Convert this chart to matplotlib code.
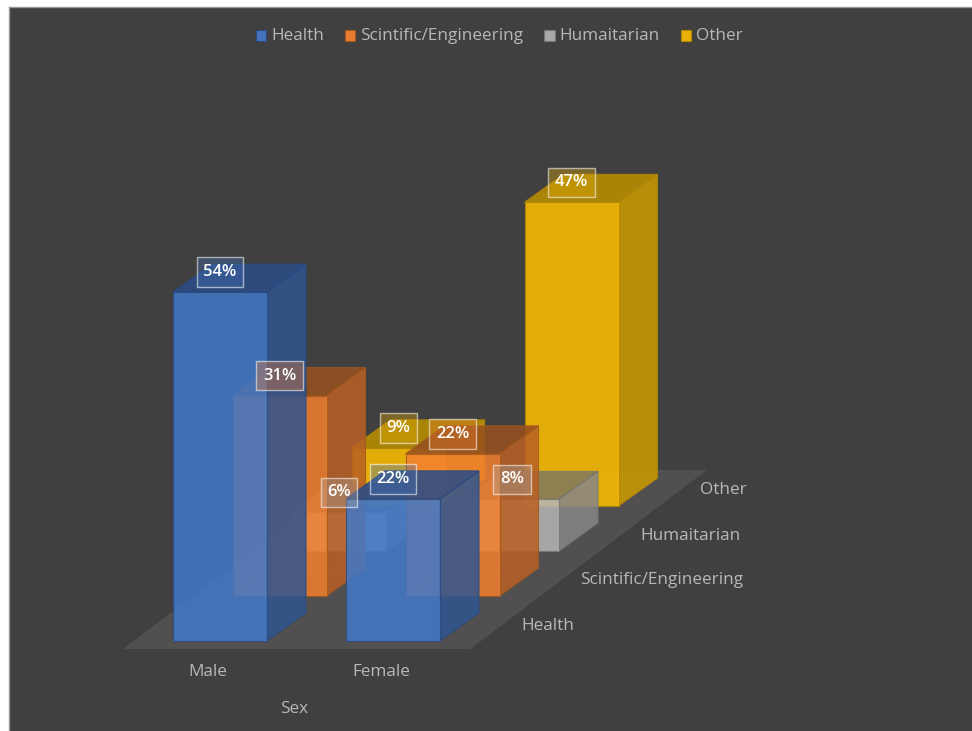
import matplotlib
matplotlib.use("Agg")
import matplotlib.pyplot as plt
from matplotlib.patches import Polygon, Patch

plt.rcParams['font.family'] = ['Open Sans', 'DejaVu Sans']

sexes = ["Male", "Female"]
series_names = ["Health", "Scintific/Engineering", "Humaitarian", "Other"]
health = [54, 22]
scientific = [31, 22]
humanitarian = [6, 8]
other = [9, 47]
series_values = [health, scientific, humanitarian, other]
axis_title = "Sex"

front_colors = ["#4278C8", "#F2802F", "#B5B5B5", "#FFC000"]
legend_colors = ["#4472BB", "#E87B30", "#A8A8A8", "#EAB005"]
side_colors = ["#30558F", "#B86024", "#868686", "#CC9C00"]
top_colors = ["#2B4C86", "#964F1E", "#6E6E6E", "#B88E00"]
edge_colors = ["#2A4A80", "#A5591F", "#777777", "#B08604"]
BG, FLOOR, TEXT = "#404040", "#514F4F", "#B8B8B8"

W, H = 972, 731
PX_X, PX_Y = 173.0, 6.46          # pixels per category / per percent
X0, Y0 = 220.0, 641.0             # pixel of first category centre / zero line
STEP_X, STEP_Y = 59.5 / PX_X, 45 / PX_Y      # shift per series row
DEP_X, DEP_Y = 39 / PX_X, 28 / PX_Y          # bar depth
BAR_W = 94 / PX_X
FS = 12
FS_AXIS = 12.3

fig = plt.figure(figsize=(W / 100, H / 100), dpi=100, facecolor="white")
ax = fig.add_axes([9 / W, 0, 963 / W, 724 / H], facecolor=BG)
ax.set_xlim((9 - X0) / PX_X, (W - X0) / PX_X)
ax.set_ylim((Y0 - H) / PX_Y, (Y0 - 7) / PX_Y)
ax.set_xticks([]); ax.set_yticks([])
for k in ("right", "bottom"):
    ax.spines[k].set_visible(False)
for k in ("left", "top"):
    ax.spines[k].set_color("#9A9A9A"); ax.spines[k].set_linewidth(1.0)


def shift(x, row, y=0.0):
    return x + row * STEP_X, y + row * STEP_Y


# floor
f_front, f_back = -8 / 45, 3.8
mx_l, mx_r = 39.4 / PX_X, 41 / PX_X
xl = 0 - BAR_W / 2 - mx_l
xr = len(sexes) - 1 + BAR_W / 2 + mx_r
ax.add_patch(Polygon([shift(xl, f_front), shift(xr, f_front),
                      shift(xr, f_back), shift(xl, f_back)],
                     closed=True, fc=FLOOR, ec="none", zorder=1))

z = 2
for row in range(len(series_names) - 1, -1, -1):
    vals = series_values[row]
    for col, v in enumerate(vals):
        cx, base = shift(col, row)
        l, r = cx - BAR_W / 2, cx + BAR_W / 2
        ec = edge_colors[row]
        top_a = 0.72 if row == 2 else 0.88
        # hidden edges seen through the translucent bar
        ax.plot([l, l + DEP_X, l + DEP_X], [base, base + DEP_Y, base + v + DEP_Y],
                color="#FFFFFF", alpha=0.05, lw=1, zorder=z)
        ax.plot([l + DEP_X, r + DEP_X], [base + DEP_Y, base + DEP_Y],
                color="#FFFFFF", alpha=0.05, lw=1, zorder=z)
        ax.add_patch(Polygon([(r, base), (r + DEP_X, base + DEP_Y),
                              (r + DEP_X, base + v + DEP_Y), (r, base + v)],
                             closed=True, fc=side_colors[row], ec=ec, lw=0.8,
                             alpha=0.86, zorder=z + 0.1))
        ax.add_patch(Polygon([(l, base + v), (r, base + v),
                              (r + DEP_X, base + v + DEP_Y), (l + DEP_X, base + v + DEP_Y)],
                             closed=True, fc=top_colors[row], ec=ec, lw=0.8,
                             alpha=top_a, zorder=z + 0.1))
        ax.bar(cx, v, width=BAR_W, bottom=base, color=front_colors[row], alpha=0.86,
               edgecolor=ec, linewidth=0.8, zorder=z + 0.2)
    z += 1

# data labels on top of all bars
for row, vals in enumerate(series_values):
    for col, v in enumerate(vals):
        cx, base = shift(col, row)
        ax.text(cx, base + v + 22 / PX_Y, f"{v}%", color="white", fontsize=FS,
                fontweight="semibold", ha="center", va="center_baseline", zorder=20,
                bbox=dict(boxstyle="square,pad=0.4", fc=legend_colors[row] + "59",
                          ec="#FFFFFF90", lw=1.0))

# axis labels
for col, name in enumerate(sexes):
    ax.text(col - 12 / PX_X, (Y0 - 672) / PX_Y, name, color=TEXT, fontsize=FS_AXIS,
            ha="center", va="center")
ax.text((294 - X0) / PX_X, (Y0 - 709) / PX_Y, axis_title, color=TEXT, fontsize=FS_AXIS,
        ha="center", va="center")
for row, name in enumerate(series_names):
    lx, ly = shift((521 - X0) / PX_X, row, (Y0 - 625.5) / PX_Y)
    ax.text(lx, ly, name, color=TEXT, fontsize=FS_AXIS, ha="left", va="center")

handles = [Patch(fc=c, ec=e, lw=0.8) for c, e in zip(legend_colors, edge_colors)]
leg = ax.legend(handles, series_names, ncol=4, frameon=False, loc="center",
                bbox_to_anchor=(0.5 + 9 / 963, 1 - 29 / 724), labelcolor=TEXT,
                fontsize=FS_AXIS, handlelength=0.6, handleheight=0.6,
                handletextpad=0.3, columnspacing=1.22)
for p in leg.get_patches():
    p.set_y(p.get_y() - 1.4)

fig.savefig("out.png", dpi=100, facecolor=fig.get_facecolor())
